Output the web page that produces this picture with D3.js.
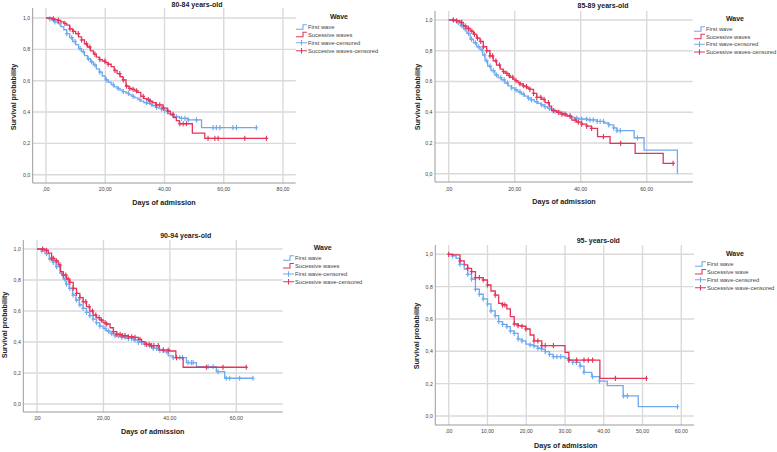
<!DOCTYPE html>
<html><head><meta charset="utf-8">
<script src="https://cdn.jsdelivr.net/npm/d3@7"></script>
<style>
body{margin:0;background:#fff;}
svg{display:block;font-family:"Liberation Sans",Arial,sans-serif;}
</style></head>
<body><svg id="c" width="777" height="452"></svg>
<script>
// ---------- DATA ----------
const panelTitles = ["80-84 years-old","85-89 years-old","90-94 years-old","95- years-old"];
const xMaxTicks = [80,60,60,60];
const xTickSteps = [20,20,20,10];
const yTicks = [0,0.2,0.4,0.6,0.8,1.0];
const legendLabels = [
  ["First wave","Sucessive waves","First wave-censored","Succesive waves-censored"],
  ["First wave","Sucessive waves","First wave-censored","Sucessive waves-censored"],
  ["First wave","Sucessive waves","First wave-censored","Sucessive wave-censored"],
  ["First wave","Sucessive wave","First wave-censored","Sucessive wave-censored"]
];
const legendTitle = "Wave";
const xAxisTitle = "Days of admission";
const yAxisTitle = "Survival probability";

// steps: [time, survival after drop]; end = last follow-up time
const p1First = [[1,0.995],[2,0.985],[3,0.975],[4,0.965],[5,0.945],[6,0.925],[7,0.90],[8,0.875],[9,0.85],[10,0.83],[11,0.805],[12,0.785],[13,0.76],[14,0.74],[15,0.72],[16,0.70],[17,0.675],[18,0.655],[19,0.63],[20,0.605],[21,0.59],[22,0.575],[23,0.56],[24,0.55],[25,0.54],[26,0.53],[27,0.52],[28,0.51],[29,0.50],[30,0.49],[31,0.48],[32,0.47],[33,0.46],[34,0.455],[35,0.45],[36,0.44],[37,0.43],[38,0.425],[39,0.42],[40,0.41],[41,0.39],[42,0.38],[43,0.37],[45,0.36],[48,0.35],[52.5,0.30]];
const p1FirstEnd = 71;
const p1FirstCens = [1.3,3,4.7,7,8.7,9.8,11.5,12.6,14.3,15.4,16.5,18.2,20.4,22.7,24.4,26.1,27.8,29.4,31.7,33.9,35.6,37.3,39,40.1,42.9,44,45.7,46.9,48,50.8,56.4,57.5,58.7,63.1,64.3,71];
const p1Succ = [[2,0.995],[3,0.99],[4,0.985],[5,0.975],[6,0.965],[7,0.955],[8,0.93],[9,0.915],[10,0.9],[11,0.88],[12,0.86],[13,0.835],[14,0.815],[15,0.79],[16,0.77],[17,0.75],[18,0.735],[19,0.725],[20,0.715],[21,0.705],[22,0.69],[23,0.665],[24,0.645],[25,0.625],[26,0.605],[27,0.565],[28,0.55],[29,0.545],[30,0.535],[31,0.525],[32,0.5],[33,0.485],[34,0.48],[35,0.47],[36,0.46],[37,0.445],[39.5,0.425],[41,0.405],[42,0.385],[43,0.365],[44,0.345],[45,0.325],[49.4,0.265],[53.6,0.232]];
const p1SuccEnd = 74.4;
const p1SuccCens = [2.5,4.2,6.4,8.1,9.2,10.9,12,13.7,14.8,16.5,18.2,19.9,21,23.3,24.9,26.1,27.2,28.3,29.4,30.6,32.8,34.5,35.1,37.3,38.4,39.6,41.2,42.9,45.2,46.3,47.4,54.7,57,58.1,67.1,74.4];

const p2First = [[1.5,0.995],[2.5,0.983],[3.5,0.962],[4.5,0.94],[5.5,0.913],[6.5,0.875],[7.5,0.852],[8.5,0.826],[9.5,0.805],[10.3,0.772],[11,0.735],[11.8,0.70],[12.8,0.67],[14,0.642],[15,0.625],[16,0.61],[17,0.59],[18,0.572],[19,0.558],[20,0.545],[21,0.532],[22,0.518],[23,0.505],[24,0.492],[25,0.48],[26,0.468],[27,0.457],[28,0.447],[29,0.436],[30,0.425],[31,0.415],[32,0.407],[33,0.398],[34,0.39],[35,0.382],[36,0.375],[37,0.368],[38,0.362],[39.5,0.356],[42,0.35],[45,0.34],[47,0.33],[48.5,0.318],[50,0.298],[51,0.28],[56.2,0.234],[59.2,0.154],[69.3,0]];
const p2FirstEnd = 69.3;
const p2FirstCens = [1.4,2.9,4,5,6,6.9,8.1,9.1,10.1,10.9,11.5,12.5,13.5,14.5,15.8,16.8,17.8,19.1,20.4,21.6,22.6,24.2,25.1,26.7,28.2,29.2,30.5,32.2,33.7,34.7,36.8,38.8,40.3,41.8,42.8,43.8,45,45.9,46.9,48.5,50,51,52,57.2];
const p2Succ = [[2.4,0.995],[3.4,0.985],[4.4,0.962],[5.5,0.946],[6.5,0.928],[7.5,0.907],[8.5,0.882],[9.5,0.86],[10.5,0.826],[11.5,0.8],[12.5,0.766],[13.5,0.735],[14.5,0.707],[15.6,0.681],[16.5,0.665],[17.1,0.653],[18,0.638],[18.6,0.627],[19.5,0.615],[20.1,0.605],[21,0.592],[21.6,0.584],[22.5,0.573],[23.1,0.566],[24,0.556],[24.6,0.549],[25.7,0.523],[26.7,0.497],[28.2,0.484],[29.2,0.462],[30.5,0.44],[31.2,0.41],[32.7,0.399],[34.2,0.388],[35.8,0.375],[37.3,0.349],[38.8,0.336],[40.3,0.323],[41.8,0.31],[43.3,0.295],[45.1,0.241],[48.9,0.197],[56.5,0.132],[65,0.067]];
const p2SuccEnd = 68;
const p2SuccCens = [1.4,2.4,3.9,5,6,7,7.8,8.7,9.7,10.5,11.5,12.5,13.3,14.3,15.4,16.6,17.6,18.4,19.4,20.4,21.6,22.6,23.6,24.6,25.7,26.7,27.9,28.9,30.2,31.7,33.3,34.3,35.3,36.8,38.3,39.3,40.3,41.8,43.3,46.9,52.1,68];

const p3First = [[1.4,0.987],[2.4,0.97],[3.7,0.935],[4.7,0.914],[5.7,0.886],[6.9,0.843],[7.9,0.806],[8.7,0.774],[9.7,0.746],[10.7,0.703],[11.7,0.671],[12.7,0.639],[13.9,0.617],[14.9,0.591],[15.9,0.57],[16.9,0.548],[17.9,0.525],[18.9,0.503],[19.9,0.488],[20.9,0.471],[22,0.454],[23.5,0.441],[25,0.432],[27,0.424],[29,0.413],[30.5,0.398],[32,0.385],[33.5,0.376],[35,0.359],[36.5,0.346],[38.5,0.338],[39.5,0.31],[41,0.299],[45,0.267],[48,0.241],[54,0.209],[56.5,0.166]];
const p3FirstEnd = 65;
const p3FirstCens = [1.4,2.9,3.9,4.9,5.9,7.4,8.4,8.9,9.9,10.9,11.9,12.9,13.9,14.9,15.9,16.9,17.9,18.9,20.5,21.5,22.5,23.5,24.5,25.5,26.5,27.5,28.5,29.5,30.5,31.5,32.5,34,35,36,37,38,39,41,43,43.8,45.5,46.5,47,51.5,53,54.5,57,58,61,65];
const p3Succ = [[2.4,0.991],[3.4,0.974],[4.4,0.94],[5.4,0.923],[6.4,0.897],[7.1,0.854],[7.9,0.832],[8.9,0.806],[9.9,0.785],[10.9,0.746],[11.9,0.714],[12.9,0.686],[13.9,0.66],[14.9,0.628],[15.9,0.6],[16.9,0.574],[17.9,0.557],[18.9,0.542],[19.9,0.525],[20.9,0.516],[22,0.492],[23,0.467],[24,0.449],[25.5,0.441],[27.5,0.434],[29,0.43],[30.5,0.417],[31.5,0.402],[32.5,0.385],[34,0.376],[36.8,0.348],[40,0.342],[41.8,0.299],[44,0.237]];
const p3SuccEnd = 63;
const p3SuccCens = [1.7,2.9,4.4,4.9,5.9,6.9,7.9,8.7,9.4,9.9,10.9,11.9,12.9,13.9,14.7,15.7,16.7,17.7,18.7,19.4,20.5,21,23,24,25,25.8,26.5,27.5,28.5,29.5,31,33,33.8,34.5,35.2,36.5,38,39.5,42,51,56,63];

const p4First = [[0.8,0.99],[1.9,0.975],[2.9,0.938],[4,0.909],[4.9,0.876],[5.9,0.847],[6.9,0.784],[7.9,0.753],[8.9,0.724],[10,0.693],[10.9,0.65],[12,0.621],[12.9,0.584],[13.9,0.567],[15,0.553],[15.9,0.526],[16.9,0.511],[17.9,0.476],[18.9,0.464],[19.9,0.445],[21,0.439],[22,0.433],[23,0.419],[24,0.414],[24.9,0.398],[26,0.381],[27,0.367],[30,0.357],[31,0.346],[32,0.332],[33.9,0.309],[34.9,0.27],[36.9,0.243],[38.9,0.216],[40.9,0.188],[45,0.124],[48.9,0.058]];
const p4FirstEnd = 59;
const p4FirstCens = [1,2.9,4.9,5.9,6.9,7.9,8.9,10,10.9,12,12.9,13.9,15,15.9,16.9,17.9,18.9,21,22,23,24,24.9,26,27,27.9,28.9,31,32,33,33.9,34.9,37.1,38.9,45.1,46.1,59];
const p4Succ = [[1,0.996],[2.9,0.959],[4,0.934],[4.9,0.913],[5.9,0.893],[6.9,0.856],[8.9,0.841],[10,0.81],[10.9,0.773],[12,0.748],[12.9,0.697],[13.9,0.687],[15,0.662],[15.9,0.614],[16.9,0.569],[17.9,0.559],[18.9,0.555],[19.9,0.538],[21,0.501],[22,0.464],[24,0.435],[30,0.394],[31,0.346],[39,0.233]];
const p4SuccEnd = 51;
const p4SuccCens = [0,2.9,4.9,5.9,6.9,7.9,8.9,10,12,13.9,14.5,16.9,17.9,18.9,19.9,22,23,24,24.9,27,31,33,34.9,36,37.1,43,51];

// ---------- LAYOUT ----------
const BLUE = "#6fa9ef", RED = "#e5345a";
const layout = [
  {xr:[46,283], yr:[174.7,18], f:{l:32.7,r:295.7,t:8,b:183}, tickY:191, title:[197,7], xt:[164,204.5], yt:[15.5,97], legX:296, legY:[27.3,34.7,42.7,50.7], wave:[339,18.5]},
  {xr:[448.7,646.7], yr:[173.7,20], f:{l:435,r:692.7,t:11,b:182}, tickY:190.7, title:[603,7.5], xt:[564,203.5], yt:[419.5,97], legX:694, legY:[29.3,36.7,44.3,52], wave:[735,20.5]},
  {xr:[37,236.3], yr:[404,249], f:{l:23.3,r:282.7,t:240,b:412}, tickY:420, title:[185.7,238.2], xt:[152.7,434.2], yt:[6.5,325], legX:283, legY:[258.3,266,274,281.7], wave:[322.7,250.2]},
  {xr:[448.7,681.3], yr:[416,254.3], f:{l:435.3,r:694,t:245,b:425}, tickY:432.7, title:[598.3,242.5], xt:[565.7,447.5], yt:[419.2,336], legX:695, legY:[264.3,272,279.7,287.7], wave:[735,255.5]}
];
const series = [
  [{steps:p1First,end:p1FirstEnd,cens:p1FirstCens,color:BLUE},{steps:p1Succ,end:p1SuccEnd,cens:p1SuccCens,color:RED}],
  [{steps:p2First,end:p2FirstEnd,cens:p2FirstCens,color:BLUE},{steps:p2Succ,end:p2SuccEnd,cens:p2SuccCens,color:RED}],
  [{steps:p3First,end:p3FirstEnd,cens:p3FirstCens,color:BLUE},{steps:p3Succ,end:p3SuccEnd,cens:p3SuccCens,color:RED}],
  [{steps:p4First,end:p4FirstEnd,cens:p4FirstCens,color:BLUE},{steps:p4Succ,end:p4SuccEnd,cens:p4SuccCens,color:RED}]
];

const svg = d3.select("#c");
const fmtX = v => v === 0 ? ",00" : d3.format(".2f")(v).replace(".", ",");
const fmtY = v => d3.format(".1f")(v).replace(".", ",");

function survAt(steps, t){ let s=1; for(const [tt,ss] of steps){ if(tt<=t+1e-9) s=ss; else break;} return s; }

layout.forEach((L,i)=>{
  const g = svg.append("g");
  const x = d3.scaleLinear().domain([0,xMaxTicks[i]]).range(L.xr);
  const y = d3.scaleLinear().domain([0,1]).range(L.yr);
  const xt = d3.range(0, xMaxTicks[i]+0.001, xTickSteps[i]);
  // grid
  g.selectAll(".hg").data(yTicks).join("line")
    .attr("x1",L.f.l).attr("x2",L.f.r).attr("y1",d=>y(d)).attr("y2",d=>y(d))
    .attr("stroke","#dadada").attr("stroke-width",1.4);
  g.selectAll(".vg").data(xt).join("line")
    .attr("x1",d=>x(d)).attr("x2",d=>x(d)).attr("y1",L.f.t).attr("y2",L.f.b)
    .attr("stroke","#dadada").attr("stroke-width",1.4);
  // axes lines
  g.append("line").attr("x1",L.f.l).attr("x2",L.f.l).attr("y1",L.f.t).attr("y2",L.f.b).attr("stroke","#9a9a9a").attr("stroke-width",1);
  g.append("line").attr("x1",L.f.l).attr("x2",L.f.r).attr("y1",L.f.b).attr("y2",L.f.b).attr("stroke","#9a9a9a").attr("stroke-width",1);
  // tick labels
  g.selectAll(".xl").data(xt).join("text").attr("x",d=>x(d)).attr("y",L.tickY)
    .attr("text-anchor","middle").attr("font-size",5.2).attr("fill","#444").text(fmtX);
  g.selectAll(".yl").data(yTicks).join("text").attr("x",L.f.l-2.5).attr("y",d=>y(d)+1.9)
    .attr("text-anchor","end").attr("font-size",5.2).attr("fill","#444").text(fmtY);
  // titles
  g.append("text").attr("x",L.title[0]).attr("y",L.title[1]).attr("text-anchor","middle")
    .attr("font-size",7).attr("font-weight","bold").attr("fill","#222").text(panelTitles[i]);
  g.append("text").attr("x",L.xt[0]).attr("y",L.xt[1]).attr("text-anchor","middle")
    .attr("font-size",7.2).attr("font-weight","bold").attr("fill","#222").text(xAxisTitle);
  g.append("text").attr("transform",`translate(${L.yt[0]},${L.yt[1]}) rotate(-90)`).attr("text-anchor","middle")
    .attr("font-size",7.2).attr("font-weight","bold").attr("fill","#222").text(yAxisTitle);
  // curves
  const line = d3.line().x(d=>x(d[0])).y(d=>y(d[1])).curve(d3.curveStepAfter);
  series[i].forEach(s=>{
    const pts = [[0,1], ...s.steps];
    const last = s.steps[s.steps.length-1][1];
    if (s.end > s.steps[s.steps.length-1][0]) pts.push([s.end,last]);
    g.append("path").attr("d",line(pts)).attr("fill","none").attr("stroke",s.color).attr("stroke-width",1.3);
    g.selectAll(null).data(s.cens).join("path")
      .attr("d",t=>{const cx=x(t), cy=y(survAt(s.steps,t)); return `M${cx},${cy-2.6}V${cy+2.6}M${cx-1.8},${cy}H${cx+1.8}`;})
      .attr("stroke",s.color).attr("stroke-width",1.1).attr("fill","none");
  });
  // legend
  g.append("text").attr("x",L.wave[0]).attr("y",L.wave[1]).attr("text-anchor","middle")
    .attr("font-size",7).attr("font-weight","bold").attr("fill","#222").text(legendTitle);
  const cols=[BLUE,RED,BLUE,RED];
  legendLabels[i].forEach((lab,k)=>{
    const ly=L.legY[k], lx=L.legX;
    if(k<2){
      g.append("path").attr("d",`M${lx},${ly+2}H${lx+7}V${ly-2.5}H${lx+11}`).attr("fill","none").attr("stroke",cols[k]).attr("stroke-width",1.1);
    } else {
      g.append("path").attr("d",`M${lx},${ly}H${lx+11}M${lx+5.5},${ly-2.8}V${ly+2.8}`).attr("fill","none").attr("stroke",cols[k]).attr("stroke-width",1.1);
    }
    g.append("text").attr("x",lx+12).attr("y",ly+2).attr("font-size",5.8).attr("fill","#444").text(lab);
  });
});
</script></body></html>
